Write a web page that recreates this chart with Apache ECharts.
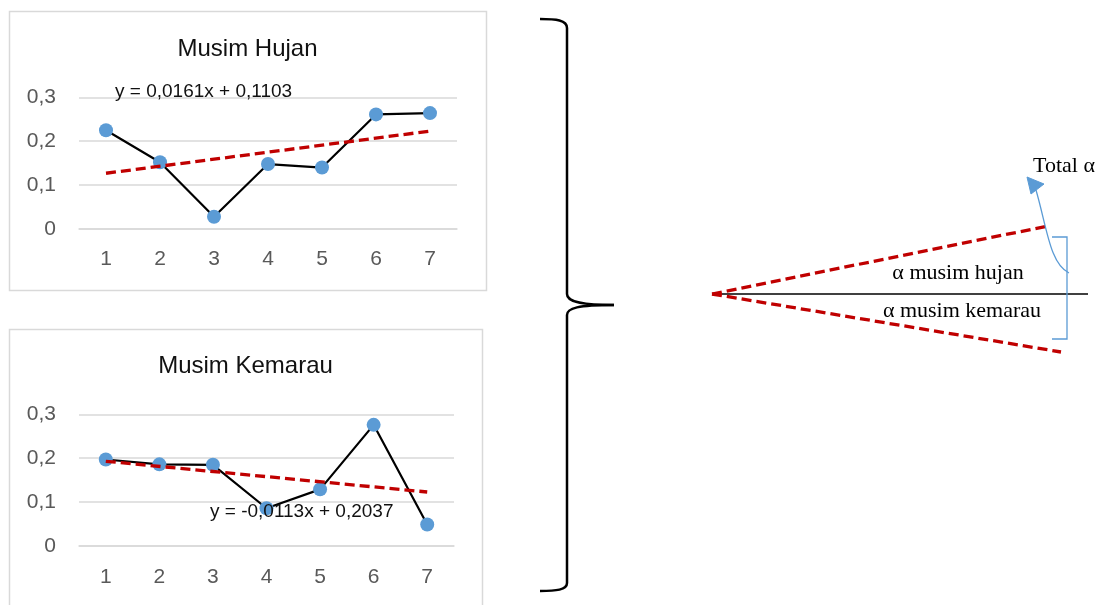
<!DOCTYPE html>
<html>
<head>
<meta charset="utf-8">
<script src="https://cdn.jsdelivr.net/npm/echarts@6/dist/echarts.min.js"></script>
<style>
html,body{margin:0;padding:0;background:#fff;}
#c{width:1099px;height:605px;}
</style>
</head>
<body>
<div id="c"></div>
<script>
// ---- data ----
var categories = ['1', '2', '3', '4', '5', '6', '7'];
var hujanValues = [0.225, 0.152, 0.028, 0.148, 0.140, 0.261, 0.264];
var hujanTrend = [0.127, null, null, null, null, null, 0.223];
var kemarauValues = [0.197, 0.186, 0.185, 0.086, 0.129, 0.276, 0.049];
var kemarauTrend = [0.193, null, null, null, null, null, 0.123];
var yTickLabels = ['0', '0,1', '0,2', '0,3'];
var hujanTitle = 'Musim Hujan';
var kemarauTitle = 'Musim Kemarau';
var hujanEquation = 'y = 0,0161x + 0,1103';
var kemarauEquation = 'y = -0,0113x + 0,2037';

var sans = 'Liberation Sans, Arial, sans-serif';
var serif = 'Liberation Serif, Times New Roman, serif';
var gridColor = '#d9d9d9';
var labelColor = '#595959';

function yFmt(v) {
  var i = Math.round(v * 10);
  return yTickLabels[i] !== undefined ? yTickLabels[i] : String(v).replace('.', ',');
}

function xAxis(idx, margin) {
  return {
    type: 'category', gridIndex: idx, data: categories, boundaryGap: true,
    axisLine: { show: true, lineStyle: { color: gridColor, width: 1.5 } },
    axisTick: { show: false },
    axisLabel: { color: labelColor, fontSize: 21, fontFamily: sans, margin: margin }
  };
}
function yAxis(idx) {
  return {
    type: 'value', gridIndex: idx, min: 0, max: 0.3, interval: 0.1,
    axisLine: { show: false }, axisTick: { show: false },
    splitLine: { lineStyle: { color: gridColor, width: 1.5 } },
    axisLabel: { color: labelColor, fontSize: 21, fontFamily: sans, margin: 23, formatter: yFmt }
  };
}
function dataSeries(idx, values) {
  return {
    type: 'line', xAxisIndex: idx, yAxisIndex: idx, data: values,
    symbol: 'circle', symbolSize: 14, z: 2,
    lineStyle: { color: '#000', width: 2.2 },
    itemStyle: { color: '#5b9bd5' },
    animation: false
  };
}
function trendSeries(idx, values) {
  return {
    type: 'line', xAxisIndex: idx, yAxisIndex: idx, data: values,
    connectNulls: true, symbol: 'none', z: 3,
    lineStyle: { color: '#c00000', width: 3.3, type: [10, 5] },
    animation: false
  };
}

var braceStyle = { fill: 'none', stroke: '#000', lineWidth: 2.5 };
var blue = '#5b9bd5';

var chart = echarts.init(document.getElementById('c'));
chart.setOption({
  backgroundColor: '#fff',
  animation: false,
  grid: [
    { left: 79, top: 97.3, width: 378, height: 131.7 },
    { left: 79, top: 414.3, width: 375, height: 131.7 }
  ],
  xAxis: [xAxis(0, 20), xAxis(1, 21)],
  yAxis: [yAxis(0), yAxis(1)],
  series: [
    dataSeries(0, hujanValues), trendSeries(0, hujanTrend),
    dataSeries(1, kemarauValues), trendSeries(1, kemarauTrend)
  ],
  graphic: [
    // chart boxes
    { type: 'rect', shape: { x: 9.5, y: 11.5, width: 477, height: 279 }, style: { fill: 'none', stroke: gridColor, lineWidth: 1.5 }, silent: true },
    { type: 'rect', shape: { x: 9.5, y: 329.5, width: 473, height: 290 }, style: { fill: 'none', stroke: gridColor, lineWidth: 1.5 }, silent: true },
    // titles
    { type: 'text', x: 247.5, y: 49, style: { text: hujanTitle, fontSize: 24, fontFamily: sans, fill: '#111', textAlign: 'center', textVerticalAlign: 'middle' } },
    { type: 'text', x: 245.5, y: 366, style: { text: kemarauTitle, fontSize: 24, fontFamily: sans, fill: '#111', textAlign: 'center', textVerticalAlign: 'middle' } },
    // equations
    { type: 'text', x: 115, y: 92, z: 10, style: { text: hujanEquation, fontSize: 19, fontFamily: sans, fill: '#111', textAlign: 'left', textVerticalAlign: 'middle' } },
    { type: 'text', x: 210, y: 512, z: 10, style: { text: kemarauEquation, fontSize: 19, fontFamily: sans, fill: '#111', textAlign: 'left', textVerticalAlign: 'middle' } },
    // curly brace
    { type: 'bezierCurve', shape: { x1: 540, y1: 19, cpx1: 556, cpy1: 19, cpx2: 567, cpy2: 20, x2: 567, y2: 28 }, style: braceStyle, silent: true },
    { type: 'line', shape: { x1: 567, y1: 28, x2: 567, y2: 294 }, style: braceStyle, silent: true },
    { type: 'bezierCurve', shape: { x1: 567, y1: 294, cpx1: 567, cpy1: 301, cpx2: 578, cpy2: 305, x2: 614, y2: 305 }, style: braceStyle, silent: true },
    { type: 'bezierCurve', shape: { x1: 614, y1: 305, cpx1: 578, cpy1: 305, cpx2: 567, cpy2: 308, x2: 567, y2: 315 }, style: braceStyle, silent: true },
    { type: 'line', shape: { x1: 567, y1: 315, x2: 567, y2: 583 }, style: braceStyle, silent: true },
    { type: 'bezierCurve', shape: { x1: 567, y1: 583, cpx1: 567, cpy1: 590, cpx2: 556, cpy2: 591, x2: 540, y2: 591 }, style: braceStyle, silent: true },
    // angle diagram
    { type: 'line', shape: { x1: 712, y1: 294, x2: 1088, y2: 294 }, style: { stroke: '#000', lineWidth: 1.3 }, silent: true },
    { type: 'line', shape: { x1: 712, y1: 294, x2: 1048, y2: 226 }, style: { stroke: '#c00000', lineWidth: 3.3, lineDash: [10, 5] }, silent: true },
    { type: 'line', shape: { x1: 712, y1: 294, x2: 1061, y2: 352 }, style: { stroke: '#c00000', lineWidth: 3.3, lineDash: [10, 5] }, silent: true },
    { type: 'polyline', shape: { points: [[1052, 237], [1067, 237], [1067, 339], [1052, 339]] }, style: { fill: 'none', stroke: blue, lineWidth: 1.3 }, silent: true },
    { type: 'bezierCurve', shape: { x1: 1069, y1: 273, cpx1: 1050, cpy1: 264, cpx2: 1047, cpy2: 228, x2: 1036, y2: 190 }, style: { fill: 'none', stroke: blue, lineWidth: 1.3 }, silent: true },
    { type: 'polygon', shape: { points: [[1027, 177], [1031, 194], [1044, 184]] }, style: { fill: blue, stroke: blue }, silent: true },
    { type: 'text', x: 958, y: 273, style: { text: 'α musim hujan', fontSize: 22, fontFamily: serif, fill: '#000', textAlign: 'center', textVerticalAlign: 'middle' } },
    { type: 'text', x: 962, y: 311, style: { text: 'α musim kemarau', fontSize: 22, fontFamily: serif, fill: '#000', textAlign: 'center', textVerticalAlign: 'middle' } },
    { type: 'text', x: 1033, y: 166, style: { text: 'Total α', fontSize: 22, fontFamily: serif, fill: '#000', textAlign: 'left', textVerticalAlign: 'middle' } }
  ]
});
</script>
</body>
</html>
